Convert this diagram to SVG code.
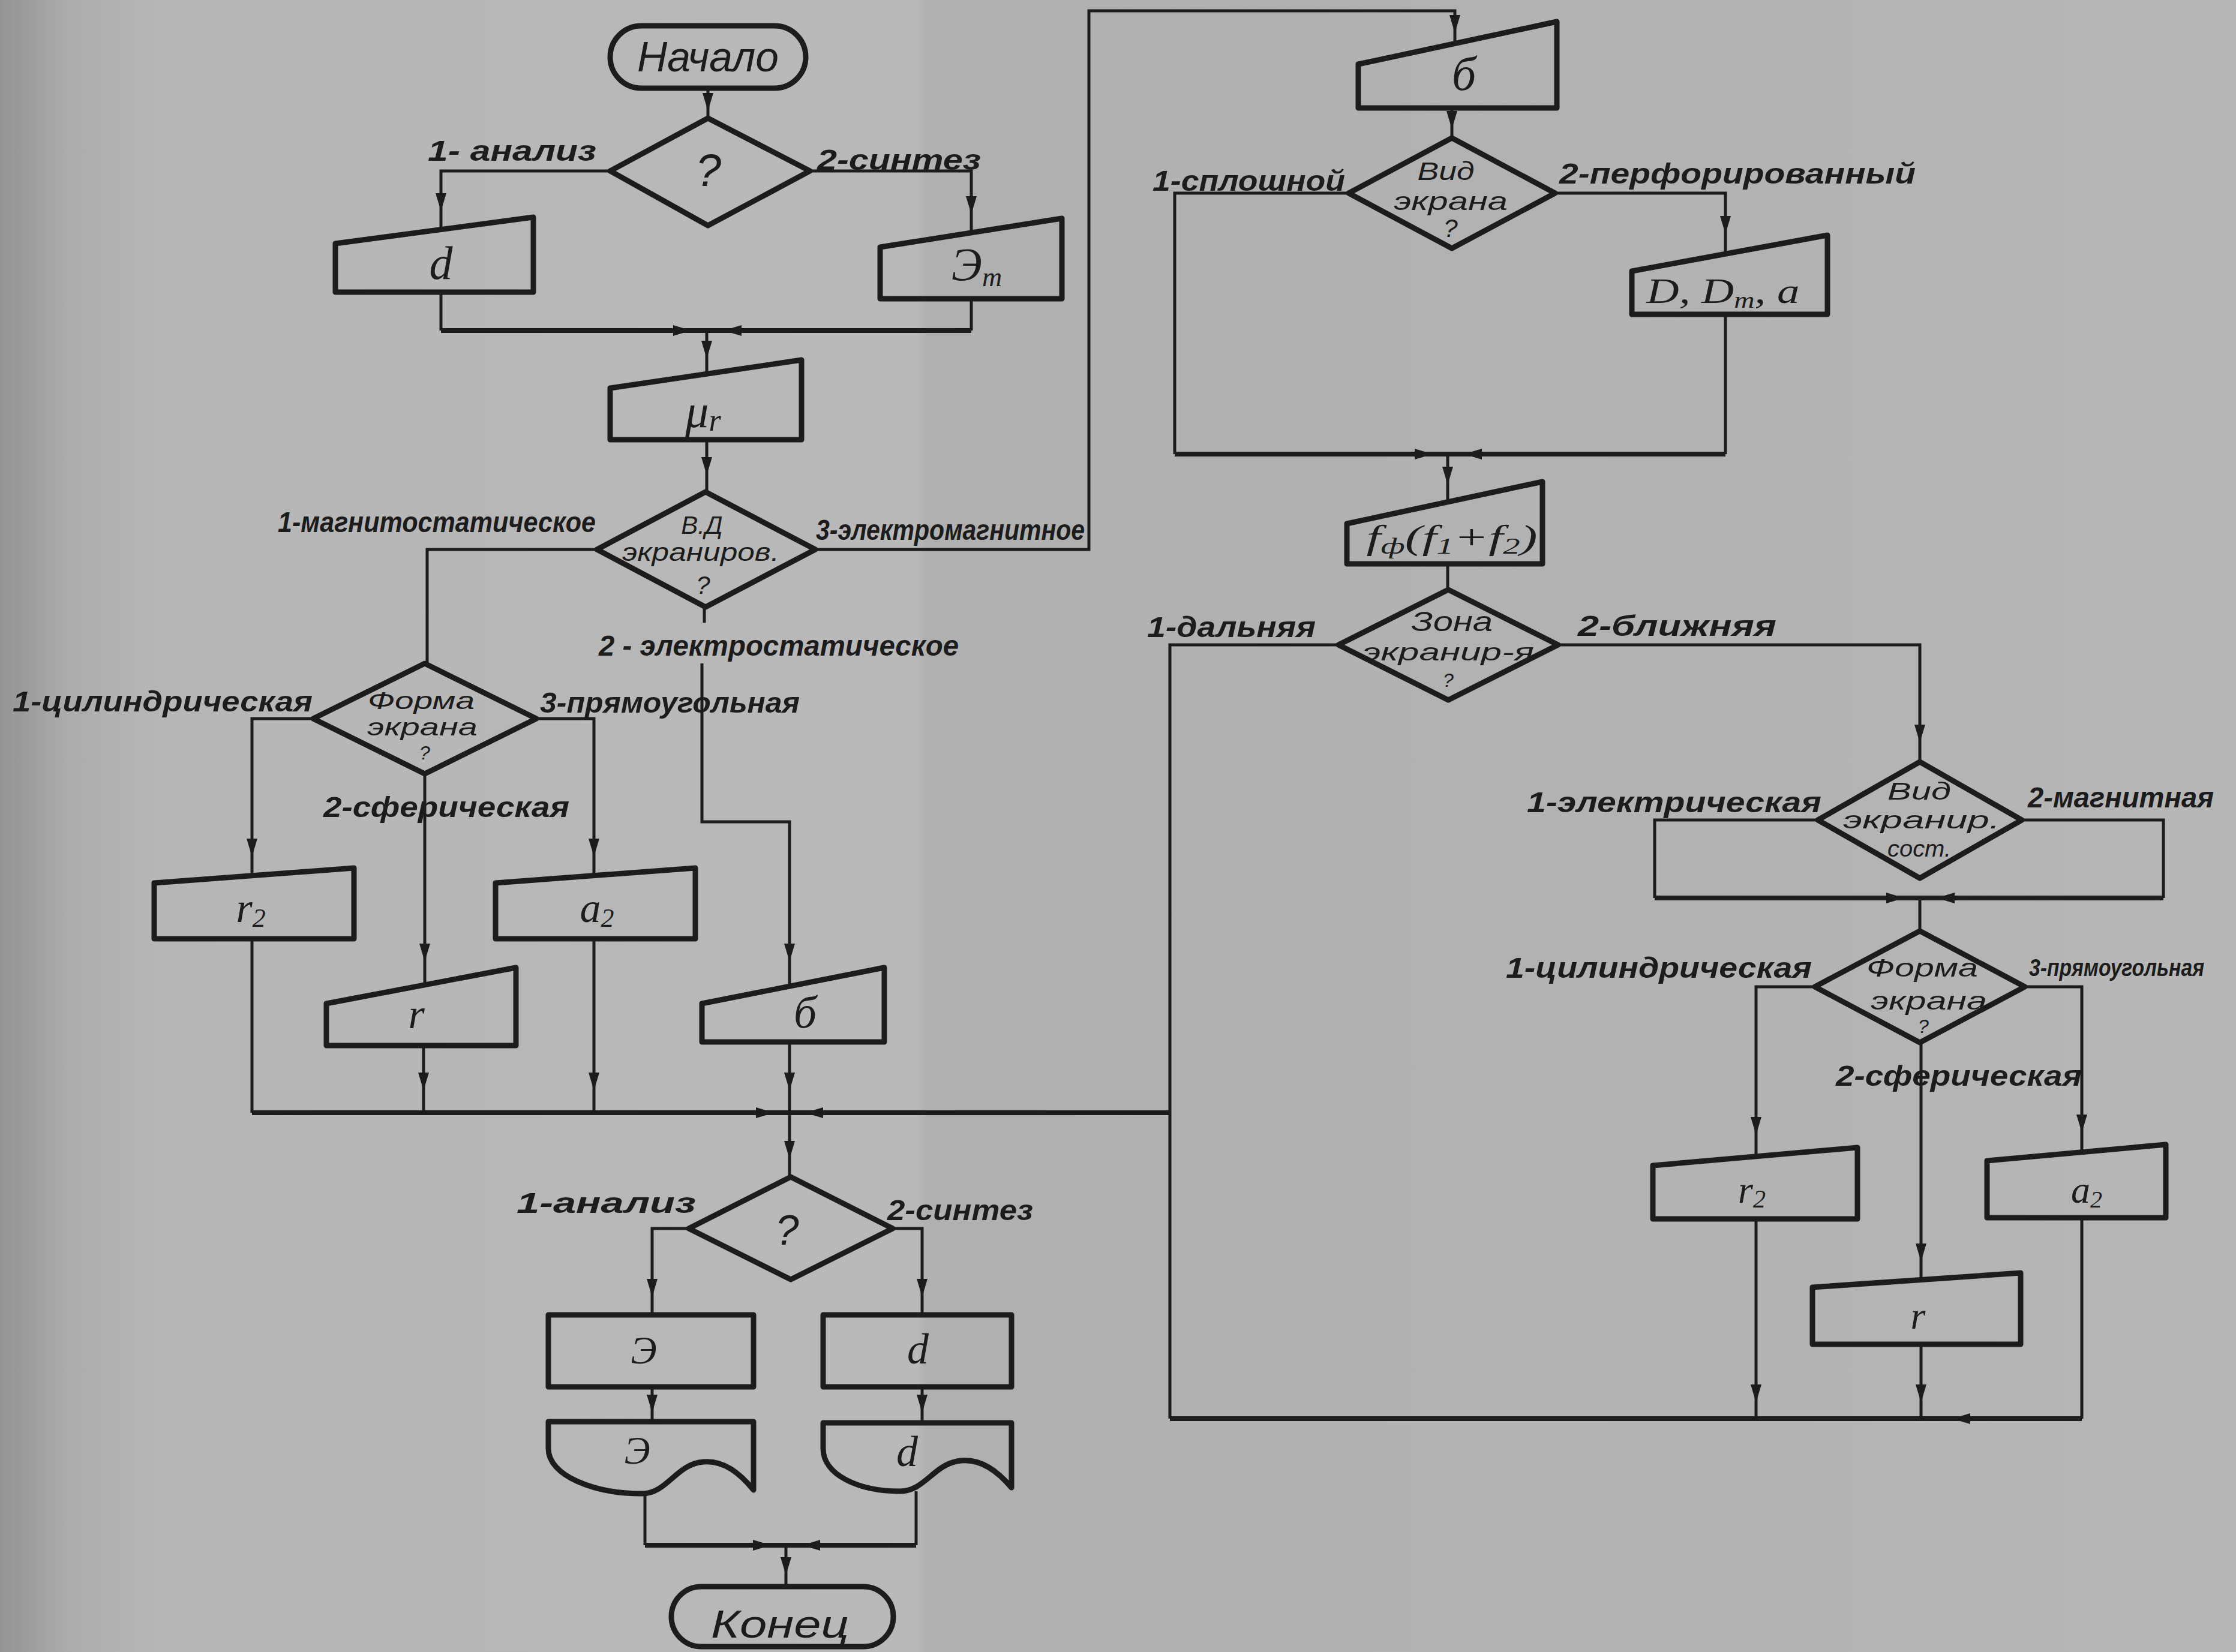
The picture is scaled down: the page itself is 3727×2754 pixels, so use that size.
<svg xmlns="http://www.w3.org/2000/svg" xmlns:xlink="http://www.w3.org/1999/xlink" width="3727" height="2754" viewBox="0 0 3727 2754">
<style>
.nd{fill:none;stroke:#1c1c1c;stroke-width:9;stroke-linejoin:round}
.cn{fill:none;stroke:#1c1c1c;stroke-width:5;stroke-linejoin:miter}
.mg{fill:none;stroke:#1c1c1c;stroke-width:8}
.lbl{font-family:"Liberation Sans",Arial,sans-serif;font-style:italic;font-weight:bold;font-size:48px;fill:#1c1c1c}
.dt{font-family:"Liberation Sans",Arial,sans-serif;font-style:italic;font-size:42px;fill:#1c1c1c;text-anchor:middle}
.sy{font-family:"Liberation Serif","Times New Roman",serif;font-style:italic;font-size:78px;fill:#1c1c1c;text-anchor:middle}
.tm{font-family:"Liberation Sans",Arial,sans-serif;font-style:italic;font-size:64px;fill:#1c1c1c;text-anchor:middle}
</style>
<defs>
<linearGradient id="bg" x1="0" y1="0" x2="1" y2="0">
<stop offset="0" stop-color="#939393"/>
<stop offset="0.03" stop-color="#acacac"/>
<stop offset="0.07" stop-color="#b6b6b6"/>
<stop offset="0.41" stop-color="#b9b9b9"/>
<stop offset="0.414" stop-color="#b0b0b0"/>
<stop offset="0.8" stop-color="#b3b3b3"/>
<stop offset="1" stop-color="#b7b7b7"/>
</linearGradient>
<path id="ar" d="M-9,-30 L9,-30 L0,0 Z" fill="#1c1c1c"/>
</defs>
<rect x="0" y="0" width="3727" height="2754" fill="url(#bg)"/>

<g id="connectors">
<path class="cn" d="M1180 147 V197"/>
<path class="cn" d="M1017 285 H735 V383"/>
<path class="cn" d="M1350 285 H1619 V388"/>
<path class="cn" d="M735 487 V551"/>
<path class="cn" d="M1619 499 V551"/>
<path class="mg" d="M735 551 H1619"/>
<path class="cn" d="M1178 551 V623"/>
<path class="cn" d="M1178 733 V820"/>
<path class="cn" d="M995 916 H712 V1106"/>
<path class="cn" d="M1359 916 H1815 V18 H2425 V72"/>
<path class="cn" d="M1174 1012 V1038"/>
<path class="cn" d="M1170 1106 V1370 H1316 V1644"/>
<path class="cn" d="M522 1198 H420 V1460"/>
<path class="cn" d="M894 1198 H990 V1460"/>
<path class="cn" d="M708 1290 V1642"/>
<path class="cn" d="M420 1565 V1855"/>
<path class="mg" d="M420 1855 H1950"/>
<path class="cn" d="M706 1743 V1855"/>
<path class="cn" d="M990 1565 V1855"/>
<path class="cn" d="M1316 1737 V1962"/>
<path class="cn" d="M1148 2048 H1087 V2192"/>
<path class="cn" d="M1488 2048 H1537 V2192"/>
<path class="cn" d="M1087 2312 V2370"/>
<path class="cn" d="M1537 2312 V2372"/>
<path class="cn" d="M1075 2490 V2576"/>
<path class="cn" d="M1527 2486 V2576"/>
<path class="mg" d="M1075 2576 H1527"/>
<path class="cn" d="M1310 2576 V2645"/>
<path class="cn" d="M2420 180 V230"/>
<path class="cn" d="M2248 322 H1958 V757"/>
<path class="cn" d="M2592 322 H2876 V423"/>
<path class="cn" d="M2876 524 V757"/>
<path class="mg" d="M1958 757 H2876"/>
<path class="cn" d="M2413 757 V837"/>
<path class="cn" d="M2413 940 V983"/>
<path class="cn" d="M2231 1075 H1950 V2365"/>
<path class="mg" d="M1950 2365 H3470"/>
<path class="cn" d="M3470 2365 V2030"/>
<path class="cn" d="M2597 1075 H3200 V1270"/>
<path class="cn" d="M3030 1367 H2758 V1497"/>
<path class="cn" d="M3370 1367 H3606 V1497"/>
<path class="mg" d="M2758 1497 H3606"/>
<path class="cn" d="M3200 1497 V1552"/>
<path class="cn" d="M3025 1645 H2927 V1928"/>
<path class="cn" d="M3375 1645 H3470 V1921"/>
<path class="cn" d="M3202 1738 V2133"/>
<path class="cn" d="M2927 2032 V2365"/>
<path class="cn" d="M3202 2241 V2365"/>
<use xlink:href="#ar" href="#ar" transform="translate(1180,185)"/>
<use xlink:href="#ar" href="#ar" transform="translate(735,352)"/>
<use xlink:href="#ar" href="#ar" transform="translate(1619,357)"/>
<use xlink:href="#ar" href="#ar" transform="translate(1152,551) rotate(-90)"/>
<use xlink:href="#ar" href="#ar" transform="translate(1206,551) rotate(90)"/>
<use xlink:href="#ar" href="#ar" transform="translate(1178,598)"/>
<use xlink:href="#ar" href="#ar" transform="translate(1178,792)"/>
<use xlink:href="#ar" href="#ar" transform="translate(2425,55)"/>
<use xlink:href="#ar" href="#ar" transform="translate(1316,1603)"/>
<use xlink:href="#ar" href="#ar" transform="translate(420,1428)"/>
<use xlink:href="#ar" href="#ar" transform="translate(990,1428)"/>
<use xlink:href="#ar" href="#ar" transform="translate(708,1603)"/>
<use xlink:href="#ar" href="#ar" transform="translate(706,1818)"/>
<use xlink:href="#ar" href="#ar" transform="translate(990,1818)"/>
<use xlink:href="#ar" href="#ar" transform="translate(1316,1818)"/>
<use xlink:href="#ar" href="#ar" transform="translate(1290,1855) rotate(-90)"/>
<use xlink:href="#ar" href="#ar" transform="translate(1342,1855) rotate(90)"/>
<use xlink:href="#ar" href="#ar" transform="translate(1316,1932)"/>
<use xlink:href="#ar" href="#ar" transform="translate(1087,2162)"/>
<use xlink:href="#ar" href="#ar" transform="translate(1537,2162)"/>
<use xlink:href="#ar" href="#ar" transform="translate(1087,2355)"/>
<use xlink:href="#ar" href="#ar" transform="translate(1537,2355)"/>
<use xlink:href="#ar" href="#ar" transform="translate(1285,2576) rotate(-90)"/>
<use xlink:href="#ar" href="#ar" transform="translate(1337,2576) rotate(90)"/>
<use xlink:href="#ar" href="#ar" transform="translate(1310,2626)"/>
<use xlink:href="#ar" href="#ar" transform="translate(2420,215)"/>
<use xlink:href="#ar" href="#ar" transform="translate(2876,390)"/>
<use xlink:href="#ar" href="#ar" transform="translate(2388,757) rotate(-90)"/>
<use xlink:href="#ar" href="#ar" transform="translate(2440,757) rotate(90)"/>
<use xlink:href="#ar" href="#ar" transform="translate(2413,808)"/>
<use xlink:href="#ar" href="#ar" transform="translate(3200,1238)"/>
<use xlink:href="#ar" href="#ar" transform="translate(3174,1497) rotate(-90)"/>
<use xlink:href="#ar" href="#ar" transform="translate(3228,1497) rotate(90)"/>
<use xlink:href="#ar" href="#ar" transform="translate(2927,1892)"/>
<use xlink:href="#ar" href="#ar" transform="translate(3470,1888)"/>
<use xlink:href="#ar" href="#ar" transform="translate(3202,2103)"/>
<use xlink:href="#ar" href="#ar" transform="translate(2927,2338)"/>
<use xlink:href="#ar" href="#ar" transform="translate(3202,2338)"/>
<use xlink:href="#ar" href="#ar" transform="translate(3254,2365) rotate(90)"/>
</g>

<g id="labels">
<text class="lbl" x="713" y="268" textLength="281" lengthAdjust="spacingAndGlyphs">1- анализ</text>
<text class="lbl" x="1362" y="283" textLength="273" lengthAdjust="spacingAndGlyphs">2-синтез</text>
<text class="lbl" x="463" y="887" textLength="530" lengthAdjust="spacingAndGlyphs">1-магнитостатическое</text>
<text class="lbl" x="1360" y="900" textLength="448" lengthAdjust="spacingAndGlyphs">3-электромагнитное</text>
<text class="lbl" x="998" y="1093" textLength="600" lengthAdjust="spacingAndGlyphs">2 - электростатическое</text>
<text class="lbl" x="21" y="1186" textLength="500" lengthAdjust="spacingAndGlyphs">1-цилиндрическая</text>
<text class="lbl" x="900" y="1188" textLength="433" lengthAdjust="spacingAndGlyphs">3-прямоугольная</text>
<text class="lbl" x="539" y="1362" textLength="410" lengthAdjust="spacingAndGlyphs">2-сферическая</text>
<text class="lbl" x="1921" y="318" textLength="321" lengthAdjust="spacingAndGlyphs">1-сплошной</text>
<text class="lbl" x="2599" y="306" textLength="594" lengthAdjust="spacingAndGlyphs">2-перфорированный</text>
<text class="lbl" x="1912" y="1062" textLength="281" lengthAdjust="spacingAndGlyphs">1-дальняя</text>
<text class="lbl" x="2630" y="1060" textLength="331" lengthAdjust="spacingAndGlyphs">2-ближняя</text>
<text class="lbl" x="2545" y="1354" textLength="491" lengthAdjust="spacingAndGlyphs">1-электрическая</text>
<text class="lbl" x="3380" y="1346" textLength="310" lengthAdjust="spacingAndGlyphs">2-магнитная</text>
<text class="lbl" x="2510" y="1630" textLength="510" lengthAdjust="spacingAndGlyphs">1-цилиндрическая</text>
<text class="lbl" x="3382" y="1627" textLength="292" lengthAdjust="spacingAndGlyphs" style="font-size:40px">3-прямоугольная</text>
<text class="lbl" x="3060" y="1810" textLength="410" lengthAdjust="spacingAndGlyphs">2-сферическая</text>
<text class="lbl" x="861" y="2022" textLength="299" lengthAdjust="spacingAndGlyphs">1-анализ</text>
<text class="lbl" x="1479" y="2034" textLength="243" lengthAdjust="spacingAndGlyphs">2-синтез</text>
</g>

<g id="n-start">
<rect class="nd" x="1017" y="43" width="326" height="104" rx="52"/>
<text class="tm" x="1180" y="119" style="font-size:70px" textLength="236" lengthAdjust="spacingAndGlyphs">Начало</text>
</g>
<g id="n-q1">
<polygon class="nd" points="1180,197 1350,285 1180,376 1017,285"/>
<text class="tm" x="1181" y="310" style="font-size:76px">?</text>
</g>
<g id="n-d1">
<path class="nd" d="M559 406 L889 362 L889 487 L559 487 Z"/>
<text class="sy" x="735" y="465">d</text>
</g>
<g id="n-et">
<path class="nd" d="M1467 412 L1770 364 L1770 498 L1467 498 Z"/>
<text class="sy" x="1628" y="467">Э<tspan dy="10" style="font-size:46px">т</tspan></text>
</g>
<g id="n-mu">
<path class="nd" d="M1017 647 L1336 600 L1336 733 L1017 733 Z"/>
<text class="sy" x="1172" y="712">μ<tspan dy="6" style="font-size:52px">r</tspan></text>
</g>
<g id="n-q2">
<polygon class="nd" points="1176,820 1359,916 1176,1012 995,916"/>
<text class="dt" x="1170" y="890">В.Д</text>
<text class="dt" x="1168" y="935" textLength="262" lengthAdjust="spacingAndGlyphs">экраниров.</text>
<text class="dt" x="1172" y="990">?</text>
</g>
<g id="n-form1">
<polygon class="nd" points="708,1106 894,1198 708,1290 522,1198"/>
<text class="dt" x="702" y="1182" style="font-size:40px" textLength="178" lengthAdjust="spacingAndGlyphs">Форма</text>
<text class="dt" x="704" y="1226" style="font-size:40px" textLength="184" lengthAdjust="spacingAndGlyphs">экрана</text>
<text class="dt" x="708" y="1266" style="font-size:32px">?</text>
</g>
<g id="n-r2a">
<path class="nd" d="M257 1472 L590 1447 L590 1565 L257 1565 Z"/>
<text class="sy" x="418" y="1537" style="font-size:70px">r<tspan dy="8" style="font-size:44px">2</tspan></text>
</g>
<g id="n-a2a">
<path class="nd" d="M826 1472 L1159 1447 L1159 1565 L826 1565 Z"/>
<text class="sy" x="995" y="1537" style="font-size:70px">a<tspan dy="8" style="font-size:44px">2</tspan></text>
</g>
<g id="n-ra">
<path class="nd" d="M544 1673 L860 1613 L860 1743 L544 1743 Z"/>
<text class="sy" x="694" y="1714" style="font-size:70px">r</text>
</g>
<g id="n-sig1">
<path class="nd" d="M1170 1673 L1474 1613 L1474 1737 L1170 1737 Z"/>
<text class="sy" x="1342" y="1713" style="font-size:76px">б</text>
</g>
<g id="n-q3">
<polygon class="nd" points="1318,1962 1488,2048 1318,2133 1148,2048"/>
<text class="tm" x="1312" y="2075" style="font-size:70px">?</text>
</g>
<g id="n-e-calc">
<rect class="nd" x="914" y="2192" width="342" height="120"/>
<text class="sy" x="1073" y="2273" style="font-size:66px">Э</text>
</g>
<g id="n-d-calc">
<rect class="nd" x="1372" y="2192" width="314" height="120"/>
<text class="sy" x="1530" y="2273" style="font-size:72px">d</text>
</g>
<g id="n-e-doc">
<path class="nd" d="M914 2370 H1256 V2484 C1225 2445 1195 2432 1165 2438 C1125 2446 1110 2490 1070 2490 C990 2490 914 2460 914 2415 Z"/>
<text class="sy" x="1062" y="2440" style="font-size:66px">Э</text>
</g>
<g id="n-d-doc">
<path class="nd" d="M1372 2372 H1686 V2480 C1655 2443 1625 2430 1595 2436 C1555 2444 1540 2486 1500 2486 C1430 2486 1372 2458 1372 2415 Z"/>
<text class="sy" x="1512" y="2444" style="font-size:72px">d</text>
</g>
<g id="n-end">
<rect class="nd" x="1119" y="2645" width="370" height="100" rx="50"/>
<text class="tm" x="1300" y="2730" textLength="230" lengthAdjust="spacingAndGlyphs">Конец</text>
</g>

<g id="n-sig2">
<path class="nd" d="M2264 107 L2595 36 L2595 180 L2264 180 Z"/>
<text class="sy" x="2440" y="150" style="font-size:80px">б</text>
</g>
<g id="n-vid1">
<polygon class="nd" points="2420,230 2592,322 2420,414 2248,322"/>
<text class="dt" x="2410" y="300" textLength="95" lengthAdjust="spacingAndGlyphs">Вид</text>
<text class="dt" x="2418" y="350" textLength="190" lengthAdjust="spacingAndGlyphs">экрана</text>
<text class="dt" x="2418" y="395">?</text>
</g>
<g id="n-ddm">
<path class="nd" d="M2720 452 L3046 392 L3046 524 L2720 524 Z"/>
<text class="sy" x="2872" y="505" style="font-size:60px" textLength="255" lengthAdjust="spacingAndGlyphs">D, D<tspan dy="8" style="font-size:38px">m</tspan><tspan dy="-8">, a</tspan></text>
</g>
<g id="n-f">
<path class="nd" d="M2245 873 L2571 803 L2571 940 L2245 940 Z"/>
<text class="sy" x="2420" y="915" style="font-size:58px" textLength="285" lengthAdjust="spacingAndGlyphs">f<tspan dy="8" style="font-size:38px">ф</tspan><tspan dy="-8">(f</tspan><tspan dy="8" style="font-size:38px">1</tspan><tspan dy="-8">+f</tspan><tspan dy="8" style="font-size:38px">2</tspan><tspan dy="-8">)</tspan></text>
</g>
<g id="n-zona">
<polygon class="nd" points="2414,983 2597,1075 2414,1167 2231,1075"/>
<text class="dt" x="2420" y="1052" style="font-size:46px" textLength="136" lengthAdjust="spacingAndGlyphs">Зона</text>
<text class="dt" x="2414" y="1101" style="font-size:40px" textLength="286" lengthAdjust="spacingAndGlyphs">экранир-я</text>
<text class="dt" x="2414" y="1145" style="font-size:32px">?</text>
</g>
<g id="n-vid2">
<polygon class="nd" points="3200,1270 3370,1367 3200,1464 3030,1367"/>
<text class="dt" x="3199" y="1333" style="font-size:40px" textLength="106" lengthAdjust="spacingAndGlyphs">Вид</text>
<text class="dt" x="3203" y="1381" style="font-size:40px" textLength="262" lengthAdjust="spacingAndGlyphs">экранир.</text>
<text class="dt" x="3199" y="1428" style="font-size:38px" textLength="106" lengthAdjust="spacingAndGlyphs">сост.</text>
</g>
<g id="n-form2">
<polygon class="nd" points="3200,1552 3375,1645 3200,1738 3025,1645"/>
<text class="dt" x="3204" y="1628" textLength="186" lengthAdjust="spacingAndGlyphs">Форма</text>
<text class="dt" x="3215" y="1683" textLength="194" lengthAdjust="spacingAndGlyphs">экрана</text>
<text class="dt" x="3206" y="1722" style="font-size:32px">?</text>
</g>
<g id="n-r2b">
<path class="nd" d="M2755 1943 L3096 1913 L3096 2032 L2755 2032 Z"/>
<text class="sy" x="2920" y="2005" style="font-size:64px">r<tspan dy="8" style="font-size:42px">2</tspan></text>
</g>
<g id="n-a2b">
<path class="nd" d="M3312 1935 L3610 1908 L3610 2030 L3312 2030 Z"/>
<text class="sy" x="3478" y="2005" style="font-size:64px">a<tspan dy="8" style="font-size:40px">2</tspan></text>
</g>
<g id="n-rb">
<path class="nd" d="M3021 2146 L3368 2122 L3368 2241 L3021 2241 Z"/>
<text class="sy" x="3197" y="2215" style="font-size:64px">r</text>
</g>
</svg>
